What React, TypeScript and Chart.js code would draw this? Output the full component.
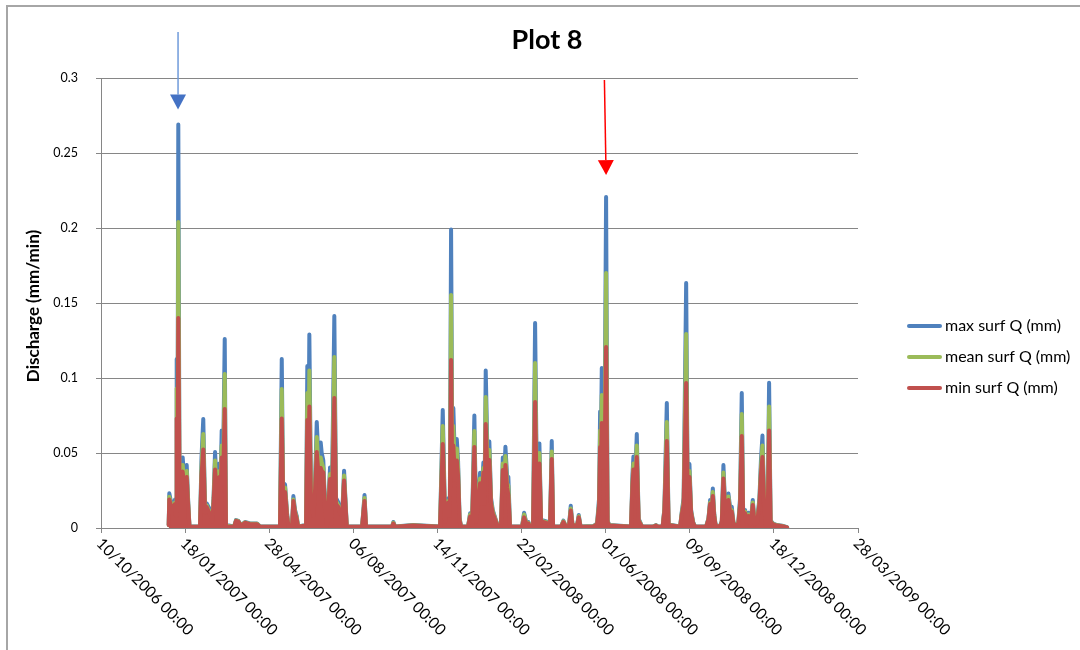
import React, { useEffect, useRef } from "react";
import { Chart, registerables } from "chart.js";

Chart.register(...registerables);

const chartTitle = "Plot 8";
const yAxisTitle = "Discharge (mm/min)";
const seriesNames = ["max surf Q (mm)", "mean surf Q (mm)", "min surf Q (mm)"];
const seriesColors = ["#4F81BD", "#9BBB59", "#C0504D"];

// x axis: days since 10/10/2006 00:00
const xTickDays = [0, 100, 200, 300, 400, 500, 600, 700, 800, 900];
const xTickLabels = [
  "10/10/2006 00:00",
  "18/01/2007 00:00",
  "28/04/2007 00:00",
  "06/08/2007 00:00",
  "14/11/2007 00:00",
  "22/02/2008 00:00",
  "01/06/2008 00:00",
  "09/09/2008 00:00",
  "18/12/2008 00:00",
  "28/03/2009 00:00",
];

const days = [
  80.5, 81.2, 84.4, 88.0, 89.2, 90.0, 90.9, 91.9, 93.3, 97.1,
  99.3, 101.9, 103.5, 105.2, 117.7, 119.5, 121.6, 123.7, 125.7, 129.6,
  132.0, 133.8, 135.6, 137.9, 140.7, 142.1, 143.5, 145.1, 147.1, 148.6,
  158.2, 160.5, 163.3, 166.5, 171.2, 177.2, 185.5, 189.1, 212.8, 214.9,
  216.4, 218.8, 221.2, 223.0, 227.1, 228.7, 230.7, 232.7, 234.3, 243.8,
  245.3, 246.5, 247.7, 249.7, 252.5, 254.5, 256.5, 258.6, 261.2, 262.4,
  264.3, 266.4, 268.7, 270.5, 272.3, 274.1, 277.4, 279.4, 282.2, 284.8,
  287.2, 289.0, 292.2, 310.4, 313.3, 315.1, 346.0, 347.6, 349.6, 371.0,
  403.1, 406.3, 409.1, 412.9, 414.7, 416.2, 417.6, 418.9, 421.0, 423.0,
  424.5, 426.3, 428.1, 436.4, 438.8, 441.2, 443.9, 445.9, 450.7, 452.5,
  454.6, 456.0, 457.4, 459.6, 461.7, 463.7, 465.8, 469.7, 472.1, 475.6,
  477.7, 479.2, 480.8, 482.8, 484.3, 486.3, 500.6, 503.0, 505.4, 508.1,
  510.1, 513.7, 516.1, 518.5, 521.2, 523.2, 525.6, 531.2, 533.9, 535.9,
  537.5, 547.0, 549.7, 552.9, 556.5, 558.5, 560.6, 566.0, 568.0, 570.2,
  585.4, 589.8, 592.2, 593.4, 594.2, 595.4, 596.9, 598.7, 600.5, 602.3,
  604.1, 630.2, 631.8, 633.0, 635.0, 637.0, 639.2, 641.0, 643.3, 656.3,
  659.9, 662.3, 667.7, 669.8, 672.7, 674.8, 677.8, 688.5, 690.5, 692.7,
  695.7, 697.4, 699.6, 701.6, 704.0, 706.3, 719.4, 722.2, 724.2, 725.7,
  727.4, 729.0, 730.7, 736.1, 738.1, 740.0, 742.0, 743.8, 745.9, 747.9,
  749.9, 752.1, 757.5, 759.8, 761.8, 763.4, 765.8, 767.6, 769.7, 771.7,
  773.5, 774.9, 777.1, 780.1, 782.8, 784.6, 786.4, 788.4, 790.4, 792.5,
  794.3, 796.1, 799.1, 803.8, 809.8, 815.7,
];

const maxQ = [
  0.002, 0.0231, 0.014, 0.019, 0.010, 0.1127, 0.030, 0.269, 0.035, 0.047,
  0.030, 0.042, 0.020, 0.001, 0.001, 0.047, 0.0727, 0.012, 0.0164, 0.012,
  0.006, 0.020, 0.0507, 0.025, 0.043, 0.030, 0.065, 0.040, 0.126, 0.002,
  0.001, 0.0053, 0.0047, 0.002, 0.004, 0.003, 0.003, 0.001, 0.001, 0.1127,
  0.030, 0.0291, 0.010, 0.001, 0.001, 0.0213, 0.012, 0.008, 0.001, 0.002,
  0.108, 0.040, 0.129, 0.020, 0.010, 0.030, 0.0707, 0.045, 0.057, 0.050,
  0.045, 0.015, 0.002, 0.020, 0.0404, 0.005, 0.1413, 0.020, 0.017, 0.012,
  0.015, 0.0382, 0.001, 0.001, 0.022, 0.001, 0.001, 0.004, 0.001, 0.002,
  0.001, 0.0787, 0.005, 0.0198, 0.010, 0.199, 0.050, 0.080, 0.040, 0.0593,
  0.045, 0.007, 0.001, 0.001, 0.0098, 0.003, 0.075, 0.005, 0.0369, 0.020,
  0.0436, 0.020, 0.105, 0.045, 0.0576, 0.020, 0.012, 0.005, 0.001, 0.002,
  0.047, 0.030, 0.0542, 0.035, 0.034, 0.001, 0.001, 0.0102, 0.004, 0.004,
  0.001, 0.002, 0.1367, 0.010, 0.0564, 0.005, 0.005, 0.004, 0.003, 0.058,
  0.001, 0.001, 0.0049, 0.001, 0.002, 0.0149, 0.002, 0.002, 0.0087, 0.001,
  0.0013, 0.003, 0.020, 0.0776, 0.050, 0.1067, 0.050, 0.060, 0.2207, 0.005,
  0.002, 0.001, 0.035, 0.0476, 0.030, 0.0627, 0.006, 0.004, 0.001, 0.001,
  0.002, 0.001, 0.001, 0.013, 0.0833, 0.002, 0.002, 0.001, 0.0109, 0.020,
  0.1633, 0.030, 0.0427, 0.012, 0.004, 0.001, 0.001, 0.0064, 0.0187, 0.012,
  0.0264, 0.010, 0.002, 0.001, 0.005, 0.042, 0.015, 0.016, 0.023, 0.014,
  0.0142, 0.003, 0.002, 0.020, 0.090, 0.012, 0.012, 0.005, 0.0102, 0.003,
  0.010, 0.0187, 0.003, 0.005, 0.0198, 0.045, 0.0616, 0.020, 0.002, 0.005,
  0.0969, 0.005, 0.003, 0.002, 0.0015, 0.0005,
];

const meanQ = [
  0.002, 0.0209, 0.013, 0.017, 0.009, 0.093, 0.028, 0.204, 0.032, 0.042,
  0.028, 0.038, 0.018, 0.0009, 0.0009, 0.040, 0.0627, 0.011, 0.015, 0.010,
  0.005, 0.018, 0.045, 0.022, 0.038, 0.026, 0.055, 0.035, 0.1027, 0.0015,
  0.0009, 0.005, 0.0045, 0.0018, 0.0038, 0.0028, 0.0028, 0.0009, 0.0009, 0.0927,
  0.027, 0.027, 0.009, 0.0009, 0.0009, 0.019, 0.011, 0.007, 0.0009, 0.0018,
  0.090, 0.035, 0.105, 0.018, 0.009, 0.027, 0.0607, 0.040, 0.047, 0.044,
  0.040, 0.013, 0.0018, 0.018, 0.036, 0.004, 0.114, 0.018, 0.015, 0.010,
  0.013, 0.035, 0.0009, 0.0009, 0.020, 0.0009, 0.0009, 0.0035, 0.0009, 0.0018,
  0.0009, 0.068, 0.0045, 0.018, 0.009, 0.1553, 0.040, 0.068, 0.036, 0.053,
  0.040, 0.006, 0.0009, 0.0009, 0.009, 0.0027, 0.0647, 0.0045, 0.033, 0.018,
  0.040, 0.018, 0.0873, 0.040, 0.052, 0.018, 0.011, 0.0045, 0.0009, 0.0018,
  0.043, 0.027, 0.048, 0.030, 0.028, 0.0009, 0.0009, 0.009, 0.0036, 0.0035,
  0.0009, 0.0018, 0.110, 0.009, 0.050, 0.0045, 0.0045, 0.0035, 0.0027, 0.051,
  0.0009, 0.0009, 0.0045, 0.0009, 0.0018, 0.013, 0.0018, 0.0018, 0.0078, 0.0009,
  0.0012, 0.0027, 0.017, 0.065, 0.045, 0.0887, 0.045, 0.050, 0.170, 0.0045,
  0.0018, 0.0009, 0.030, 0.043, 0.028, 0.055, 0.0054, 0.0035, 0.0009, 0.0009,
  0.0018, 0.0009, 0.0009, 0.012, 0.0707, 0.0018, 0.0018, 0.0009, 0.010, 0.018,
  0.1293, 0.027, 0.038, 0.011, 0.0036, 0.0009, 0.0009, 0.006, 0.017, 0.011,
  0.024, 0.009, 0.0018, 0.0009, 0.0045, 0.037, 0.013, 0.014, 0.021, 0.012,
  0.012, 0.0027, 0.0018, 0.017, 0.076, 0.011, 0.011, 0.0045, 0.009, 0.0027,
  0.009, 0.017, 0.0027, 0.0045, 0.018, 0.040, 0.055, 0.018, 0.0018, 0.0045,
  0.081, 0.0045, 0.0027, 0.0018, 0.0013, 0.0004,
];

const minQ = [
  0.002, 0.019, 0.012, 0.016, 0.008, 0.073, 0.025, 0.140, 0.030, 0.0376,
  0.026, 0.034, 0.016, 0.0008, 0.0008, 0.035, 0.0524, 0.010, 0.014, 0.009,
  0.004, 0.016, 0.039, 0.020, 0.034, 0.024, 0.047, 0.030, 0.0793, 0.001,
  0.0008, 0.0047, 0.0042, 0.0016, 0.0035, 0.0025, 0.0025, 0.0008, 0.0008, 0.073,
  0.024, 0.024, 0.008, 0.0008, 0.0008, 0.018, 0.010, 0.006, 0.0008, 0.0016,
  0.072, 0.030, 0.081, 0.016, 0.008, 0.025, 0.0507, 0.036, 0.040, 0.038,
  0.037, 0.012, 0.0016, 0.016, 0.0327, 0.003, 0.0867, 0.016, 0.014, 0.009,
  0.012, 0.0316, 0.0008, 0.0008, 0.018, 0.0008, 0.0008, 0.003, 0.0008, 0.0016,
  0.0008, 0.056, 0.004, 0.017, 0.008, 0.112, 0.035, 0.055, 0.032, 0.045,
  0.035, 0.005, 0.0008, 0.0008, 0.0076, 0.0024, 0.054, 0.004, 0.0298, 0.016,
  0.037, 0.016, 0.0693, 0.035, 0.0453, 0.016, 0.0097, 0.004, 0.0008, 0.0016,
  0.0387, 0.025, 0.042, 0.027, 0.022, 0.0008, 0.0008, 0.0071, 0.0032, 0.003,
  0.0008, 0.0016, 0.084, 0.008, 0.043, 0.004, 0.004, 0.003, 0.0024, 0.046,
  0.0008, 0.0008, 0.004, 0.0008, 0.0016, 0.0116, 0.0016, 0.0016, 0.0071, 0.0008,
  0.001, 0.0024, 0.015, 0.054, 0.040, 0.070, 0.040, 0.045, 0.1207, 0.004,
  0.0016, 0.0008, 0.028, 0.039, 0.026, 0.0473, 0.0048, 0.003, 0.0008, 0.0008,
  0.0016, 0.0008, 0.0008, 0.011, 0.058, 0.0016, 0.0016, 0.0008, 0.009, 0.016,
  0.0967, 0.025, 0.034, 0.010, 0.0032, 0.0008, 0.0008, 0.0055, 0.016, 0.010,
  0.0213, 0.008, 0.0016, 0.0008, 0.004, 0.033, 0.012, 0.013, 0.0187, 0.011,
  0.011, 0.0024, 0.0016, 0.015, 0.0613, 0.010, 0.0098, 0.004, 0.008, 0.0024,
  0.008, 0.0153, 0.0024, 0.004, 0.016, 0.036, 0.0473, 0.016, 0.0016, 0.004,
  0.065, 0.004, 0.0024, 0.0016, 0.0012, 0.0003,
];

// annotation arrows, in data coordinates (day, value)
const arrowStartDay = [91.6, 598.5];
const arrowStartVal = [0.3307, 0.2987];
const arrowEndDay = [91.6, 600.5];
const arrowEndVal = [0.279, 0.2353];
const arrowLineColors = ["#6F9BDB", "#FF0000"];
const arrowHeadColors = ["#4472C4", "#FF0000"];

const FONT = "Lato, 'Open Sans', sans-serif";

const decorPlugin = {
  id: "decor",
  beforeDraw(chart: any) {
    const ctx = chart.ctx;
    ctx.save();
    ctx.fillStyle = "#ffffff";
    ctx.fillRect(0, 0, chart.width, chart.height);
    ctx.strokeStyle = "#A6A6A6";
    ctx.lineWidth = 2;
    ctx.beginPath();
    ctx.moveTo(7, chart.height);
    ctx.lineTo(7, 6);
    ctx.lineTo(chart.width, 6);
    ctx.stroke();
    ctx.restore();
  },
  afterDraw(chart: any) {
    const ctx = chart.ctx;
    const xs = chart.scales.x;
    const ys = chart.scales.y;
    ctx.save();
    ctx.fillStyle = "#000000";

    // title
    ctx.font = `bold 27px ${FONT}`;
    ctx.textAlign = "center";
    ctx.textBaseline = "middle";
    ctx.fillText(chartTitle, 547, 40);

    // y axis title
    ctx.save();
    ctx.translate(34, 306);
    ctx.rotate(-Math.PI / 2);
    ctx.font = `bold 17px ${FONT}`;
    ctx.fillText(yAxisTitle, 0, 0);
    ctx.restore();

    // x tick labels rotated 45 degrees
    ctx.font = `15.5px ${FONT}`;
    ctx.textAlign = "left";
    ctx.textBaseline = "middle";
    xTickDays.forEach((d, i) => {
      const px = xs.getPixelForValue(d);
      ctx.save();
      ctx.translate(px - 2, 541);
      ctx.rotate(Math.PI / 4);
      ctx.fillText(xTickLabels[i], 0, 0);
      ctx.restore();
    });

    // legend
    ctx.font = `16px ${FONT}`;
    ctx.textAlign = "left";
    ctx.textBaseline = "middle";
    seriesNames.forEach((name, i) => {
      const ly = 326 + i * 31;
      ctx.strokeStyle = seriesColors[i];
      ctx.lineWidth = 4;
      ctx.lineCap = "round";
      ctx.beginPath();
      ctx.moveTo(909, ly);
      ctx.lineTo(940, ly);
      ctx.stroke();
      ctx.fillStyle = "#000000";
      ctx.fillText(name, 945, ly);
    });

    // arrows
    for (let i = 0; i < arrowStartDay.length; i++) {
      const x1 = xs.getPixelForValue(arrowStartDay[i]);
      const y1 = ys.getPixelForValue(arrowStartVal[i]);
      const x2 = xs.getPixelForValue(arrowEndDay[i]);
      const y2 = ys.getPixelForValue(arrowEndVal[i]);
      const ang = Math.atan2(y2 - y1, x2 - x1);
      const headLen = 15;
      const headHalf = 8;
      const bx = x2 - headLen * Math.cos(ang);
      const by = y2 - headLen * Math.sin(ang);
      ctx.strokeStyle = arrowLineColors[i];
      ctx.lineWidth = 1.5;
      ctx.lineCap = "butt";
      ctx.beginPath();
      ctx.moveTo(x1, y1);
      ctx.lineTo(bx, by);
      ctx.stroke();
      ctx.fillStyle = arrowHeadColors[i];
      ctx.beginPath();
      ctx.moveTo(x2, y2);
      ctx.lineTo(bx + headHalf * Math.sin(ang), by - headHalf * Math.cos(ang));
      ctx.lineTo(bx - headHalf * Math.sin(ang), by + headHalf * Math.cos(ang));
      ctx.closePath();
      ctx.fill();
    }
    ctx.restore();
  },
};

export default function App() {
  const canvasRef = useRef<HTMLCanvasElement | null>(null);

  useEffect(() => {
    const canvas = canvasRef.current;
    if (!canvas) return;
    const series = [maxQ, meanQ, minQ];
    const chart = new Chart(canvas, {
      type: "line",
      data: {
        datasets: series.map((vals, i) => ({
          label: seriesNames[i],
          data: days.map((d, j) => ({ x: d, y: vals[j] })),
          borderColor: seriesColors[i],
          backgroundColor: seriesColors[i],
          borderWidth: 4,
          pointRadius: 0,
          tension: 0,
          fill: "origin",
          borderJoinStyle: "round",
          borderCapStyle: "round",
          order: 2 - i,
        })),
      },
      options: {
        animation: false,
        responsive: false,
        events: [],
        layout: { padding: { left: 0, top: 78, right: 222, bottom: 0 } },
        plugins: {
          legend: { display: false },
          title: { display: false },
          tooltip: { enabled: false },
          filler: { propagate: false },
        },
        scales: {
          x: {
            type: "linear",
            min: 0,
            max: 900,
            afterBuildTicks: (s: any) => {
              s.ticks = xTickDays.map((v) => ({ value: v }));
            },
            ticks: { display: false },
            grid: {
              drawOnChartArea: false,
              drawTicks: true,
              tickLength: 5,
              color: "#868686",
            },
            border: { display: true, color: "#868686" },
            afterFit: (s: any) => {
              s.height = 122;
            },
          },
          y: {
            min: 0,
            max: 0.3,
            ticks: {
              stepSize: 0.05,
              padding: 18,
              color: "#000000",
              font: { family: FONT, size: 12.5 },
              callback: (v: any) => String(Math.round(Number(v) * 100) / 100),
            },
            grid: { color: "#868686", tickLength: 5 },
            border: { display: true, color: "#868686" },
            afterFit: (s: any) => {
              s.width = 101;
            },
          },
        },
      },
      plugins: [decorPlugin],
    } as any);
    return () => chart.destroy();
  }, []);

  return (
    <canvas
      ref={canvasRef}
      width={1080}
      height={650}
      style={{ position: "fixed", left: 0, top: 0, display: "block" }}
    />
  );
}
